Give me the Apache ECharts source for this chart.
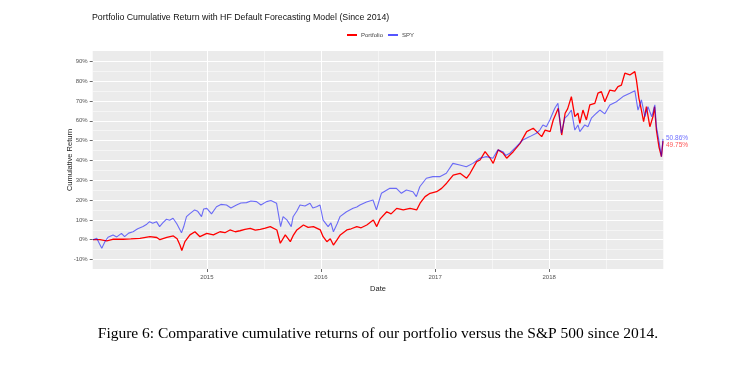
<!DOCTYPE html>
<html><head><meta charset="utf-8">
<script src="https://cdn.jsdelivr.net/npm/echarts@6/dist/echarts.min.js"></script>
<style>html,body{margin:0;padding:0;background:#fff;}#chart{width:753px;height:387px;}</style>
</head><body><div id="chart"></div>
<script>
const seriesNames = ['Portfolio', 'SPY'];
const xTickYears = [2015, 2016, 2017, 2018];
const xMinorYears = [2014.5, 2015.5, 2016.5, 2017.5, 2018.5];
const yTickValues = [-10, 0, 10, 20, 30, 40, 50, 60, 70, 80, 90];
const yMinorValues = [-5, 5, 15, 25, 35, 45, 55, 65, 75, 85];

const spyDates = ['2014-01-02','2014-01-14','2014-01-21','2014-01-30','2014-02-04','2014-02-09','2014-02-19','2014-02-25','2014-03-07','2014-03-19','2014-04-03','2014-04-13','2014-04-26','2014-05-10','2014-05-25','2014-06-11','2014-06-23','2014-07-02','2014-07-12','2014-07-24','2014-08-03','2014-08-13','2014-08-25','2014-09-04','2014-09-15','2014-09-27','2014-10-12','2014-10-19','2014-10-28','2014-11-07','2014-11-23','2014-12-03','2014-12-15','2014-12-22','2015-01-01','2015-01-16','2015-02-01','2015-02-15','2015-03-05','2015-03-19','2015-04-06','2015-04-20','2015-05-08','2015-05-22','2015-06-09','2015-06-23','2015-07-11','2015-07-25','2015-08-12','2015-08-25','2015-09-02','2015-09-14','2015-09-28','2015-10-04','2015-10-16','2015-10-26','2015-11-11','2015-11-27','2015-12-06','2015-12-18','2015-12-29','2016-01-08','2016-01-24','2016-02-02','2016-02-10','2016-02-22','2016-03-02','2016-03-23','2016-04-13','2016-04-25','2016-05-05','2016-05-26','2016-06-16','2016-06-27','2016-07-08','2016-07-13','2016-08-09','2016-08-30','2016-09-15','2016-10-01','2016-10-22','2016-11-02','2016-11-13','2016-12-04','2016-12-25','2017-01-16','2017-02-06','2017-02-27','2017-03-21','2017-04-11','2017-05-02','2017-05-24','2017-06-14','2017-07-05','2017-07-21','2017-08-06','2017-08-15','2017-08-28','2017-09-18','2017-10-09','2017-10-31','2017-11-21','2017-12-02','2017-12-12','2017-12-23','2018-01-03','2018-01-19','2018-01-29','2018-02-09','2018-02-20','2018-03-02','2018-03-13','2018-03-24','2018-04-03','2018-04-09','2018-04-25','2018-05-05','2018-05-16','2018-06-01','2018-06-12','2018-06-28','2018-07-14','2018-08-04','2018-08-25','2018-09-16','2018-10-02','2018-10-12','2018-10-23','2018-11-03','2018-11-13','2018-11-25','2018-12-05','2018-12-10','2018-12-18','2018-12-26','2018-12-31'];
const spyValues = [0,0.7,-1.5,-4.3,-3.6,-1.0,1.2,0.5,2.4,1.4,3.2,1.5,3.3,4.0,5.5,6.6,7.8,9.1,8.3,9.1,6.6,8.5,10.3,9.8,10.8,8.0,3.5,6.5,11.6,13.0,15.0,14.3,11.6,15.5,15.8,13.0,16.6,17.8,17.5,16.0,17.5,18.5,18.7,19.5,19.2,17.5,19.2,19.8,18.4,6.6,11.6,10.0,6.6,11.6,14.5,17.5,17.0,18.4,16.0,16.6,17.5,9.9,6.6,8.5,4.0,8.0,11.6,14.1,15.8,16.5,17.5,19.0,20.0,15.0,20.9,23.4,25.9,25.9,23.4,25.1,24.2,21.7,26.7,31.0,31.8,31.8,33.5,38.5,37.7,36.8,38.5,41.1,41.9,41.1,45.3,44.4,42.5,43.6,46.9,50.3,52.0,53.7,55.3,57.9,57.0,60.4,66.3,68.8,53.7,61.3,62.9,65.4,55.3,57.9,54.5,57.9,57.0,61.3,63.8,65.4,63.5,68.0,69.6,72.2,73.9,75.2,65.4,70.5,62.1,67.1,62.0,68.0,57.0,50.0,41.9,50.86];

const portDates = ['2014-01-02','2014-01-24','2014-02-15','2014-03-06','2014-04-08','2014-05-03','2014-06-01','2014-07-03','2014-07-25','2014-08-04','2014-08-26','2014-09-16','2014-09-28','2014-10-07','2014-10-13','2014-10-23','2014-11-08','2014-11-24','2014-12-10','2015-01-01','2015-01-22','2015-02-12','2015-02-28','2015-03-16','2015-04-02','2015-04-17','2015-05-03','2015-05-20','2015-06-05','2015-06-21','2015-07-07','2015-07-23','2015-08-13','2015-08-24','2015-09-09','2015-09-25','2015-10-04','2015-10-16','2015-11-06','2015-11-21','2015-12-08','2015-12-30','2016-01-08','2016-01-20','2016-01-31','2016-02-10','2016-02-22','2016-03-03','2016-03-24','2016-04-07','2016-04-25','2016-05-09','2016-05-27','2016-06-17','2016-06-28','2016-07-09','2016-07-30','2016-08-13','2016-08-31','2016-09-21','2016-10-13','2016-11-03','2016-11-14','2016-11-30','2016-12-16','2017-01-06','2017-01-22','2017-02-07','2017-02-28','2017-03-22','2017-04-12','2017-04-23','2017-05-14','2017-05-25','2017-06-10','2017-06-26','2017-07-06','2017-07-22','2017-08-07','2017-08-18','2017-09-08','2017-09-30','2017-10-21','2017-11-11','2017-11-22','2017-12-08','2017-12-19','2018-01-04','2018-01-14','2018-01-30','2018-02-10','2018-02-21','2018-03-01','2018-03-13','2018-03-24','2018-04-03','2018-04-09','2018-04-19','2018-04-30','2018-05-11','2018-05-27','2018-06-06','2018-06-17','2018-06-28','2018-07-14','2018-07-30','2018-08-09','2018-08-20','2018-08-31','2018-09-16','2018-10-02','2018-10-07','2018-10-15','2018-10-23','2018-10-30','2018-11-08','2018-11-19','2018-11-29','2018-12-04','2018-12-10','2018-12-18','2018-12-26','2018-12-31'];
const portValues = [0,0,-0.6,0.2,0.2,0.4,0.7,1.5,1.1,0,1.1,1.9,0.5,-2.7,-5.5,-1.0,2.4,4.0,1.5,3.2,2.4,4.0,3.5,4.9,4.0,4.5,5.2,5.7,4.8,5.2,5.8,6.6,4.9,-1.8,2.4,-1.0,2.0,4.9,7.4,6.2,6.6,4.9,1.5,-1.0,0.5,-2.7,0,2.4,4.9,5.5,6.6,6.0,7.4,9.9,6.6,10.5,14.1,13.0,15.8,15.0,15.8,15.0,18.4,21.7,23.4,24.2,25.9,28.5,32.6,33.5,31.0,33.5,39.4,40.2,44.4,41.1,38.5,45.3,43.6,41.1,44.4,48.6,54.5,56.2,54.5,52.0,55.3,54.5,60.4,66.3,52.8,63.8,66.0,72.2,62.1,63.8,58.7,65.4,60.4,68.0,68.8,73.9,74.7,69.6,75.5,75.0,77.2,78.0,84.0,83.1,84.8,80.6,71.3,65.4,59.5,67.1,57.0,62.1,67.1,55.3,46.9,41.9,49.75];

function toYear(s) {
  const p = s.split('-').map(Number);
  const t = Date.UTC(p[0], p[1] - 1, p[2]), a = Date.UTC(p[0], 0, 1), b = Date.UTC(p[0] + 1, 0, 1);
  return p[0] + (t - a) / (b - a);
}
const portData = portDates.map((d, i) => [toYear(d), portValues[i]]);
const spyData = spyDates.map((d, i) => [toYear(d), spyValues[i]]);

const FONT = 'Liberation Sans, Arial, sans-serif';
const chart = echarts.init(document.getElementById('chart'), null, {renderer: 'canvas'});
chart.setOption({
  animation: false,
  backgroundColor: '#ffffff',
  title: [
    {text: 'Portfolio Cumulative Return with HF Default Forecasting Model (Since 2014)', left: 87, top: 8,
     textStyle: {fontFamily: FONT, fontSize: 8.8, fontWeight: 'normal', color: '#111'}},
    {text: 'Figure 6: Comparative cumulative returns of our portfolio versus the S&P 500 since 2014.',
     left: 373, textAlign: 'center', top: 321,
     textStyle: {fontFamily: 'Liberation Serif, DejaVu Serif, serif', fontSize: 15.5, fontWeight: 'normal', color: '#000'}}
  ],
  legend: {
    data: seriesNames, left: 342, top: 27, icon: 'rect', itemWidth: 10, itemHeight: 2, itemGap: 5,
    textStyle: {fontFamily: FONT, fontSize: 6, color: '#444', padding: [0, 0, 0, -1]}
  },
  grid: {left: 92.7, right: 89.7, top: 51, bottom: 118, show: true, backgroundColor: '#EBEBEB', borderWidth: 0, containLabel: false},
  xAxis: [
    {type: 'value', min: 2014, max: 2019, name: 'Date', nameLocation: 'middle', nameGap: 15,
     nameTextStyle: {fontFamily: FONT, fontSize: 7.5, color: '#222'},
     axisLine: {show: false, onZero: false},
     axisTick: {show: true, length: 3, customValues: xTickYears, lineStyle: {color: '#444', width: 0.8}},
     axisLabel: {customValues: xTickYears, fontFamily: FONT, fontSize: 6, color: '#555', margin: 5, formatter: v => String(Math.round(v))},
     splitLine: {show: true, lineStyle: {color: '#ffffff', width: 1}}},
    {type: 'value', min: 2014, max: 2019, position: 'bottom', show: true,
     axisLine: {show: false, onZero: false}, axisLabel: {show: false},
     axisTick: {show: false, customValues: xMinorYears},
     splitLine: {show: true, lineStyle: {color: '#ffffff', width: 0.5}}}
  ],
  yAxis: [
    {type: 'value', min: -14.8, max: 95.2, name: 'Cumulative Return', nameLocation: 'middle', nameGap: 19, nameRotate: 90,
     nameMoveOverlap: false,
     nameTextStyle: {fontFamily: FONT, fontSize: 7.5, color: '#222'},
     axisLine: {show: false, onZero: false},
     axisTick: {show: true, length: 3, customValues: yTickValues, lineStyle: {color: '#444', width: 0.8}},
     axisLabel: {customValues: yTickValues, fontFamily: FONT, fontSize: 6, color: '#555', margin: 5, formatter: v => Math.round(v) + '%'},
     splitLine: {show: true, lineStyle: {color: '#ffffff', width: 1}}},
    {type: 'value', min: -14.8, max: 95.2, position: 'right', show: true,
     axisLine: {show: false, onZero: false}, axisLabel: {show: false},
     axisTick: {show: false, customValues: yMinorValues},
     splitLine: {show: true, lineStyle: {color: '#ffffff', width: 0.5}}}
  ],
  series: [
    {name: 'Portfolio', type: 'line', data: portData, xAxisIndex: 0, yAxisIndex: 0, symbol: 'none',
     lineStyle: {color: '#ff0000', width: 1.3}, itemStyle: {color: '#ff0000'},
     endLabel: {show: true, formatter: p => p.value[1].toFixed(2) + '%', color: '#ff5555', fontFamily: FONT, fontSize: 6.5, distance: 3, offset: [0, 4.5]}},
    {name: 'SPY', type: 'line', data: spyData, xAxisIndex: 0, yAxisIndex: 0, symbol: 'none',
     lineStyle: {color: 'rgba(0,0,255,0.55)', width: 1.1}, itemStyle: {color: '#5555ff'},
     endLabel: {show: true, formatter: p => p.value[1].toFixed(2) + '%', color: '#6f6fff', fontFamily: FONT, fontSize: 6.5, distance: 3, offset: [0, -0.5]}}
  ]
});
</script></body></html>
